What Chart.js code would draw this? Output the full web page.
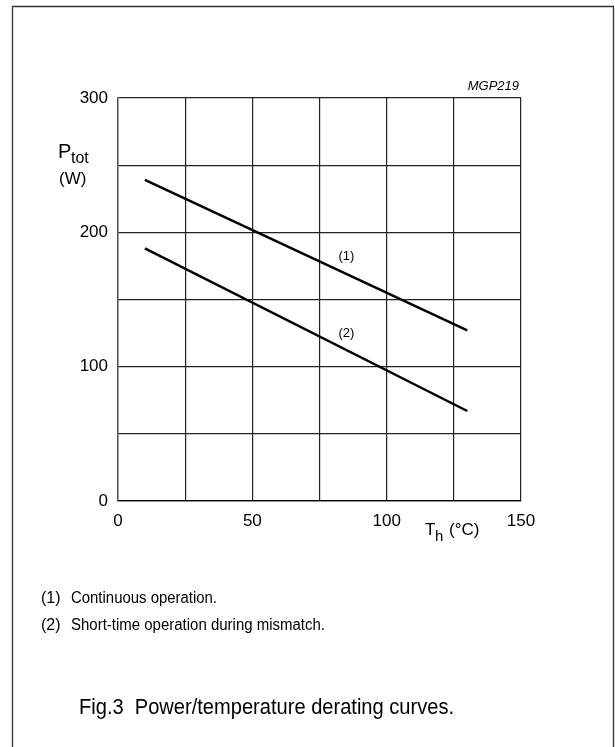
<!DOCTYPE html>
<html>
<head>
<meta charset="utf-8">
<script src="https://cdn.jsdelivr.net/npm/chart.js@4/dist/chart.umd.min.js"></script>
<style>
  html, body { margin: 0; padding: 0; background: #fff; }
  canvas { display: block; }
</style>
</head>
<body>
<canvas id="derating-chart" width="615" height="747"></canvas>
<script>
// heatsink temperature (°C) at both ends of each curve
const tempPoints = [10, 130];
// (1) continuous operation, W
const continuousPower = [239, 127];
// (2) short-time operation during mismatch, W
const mismatchPower = [188, 67];

const xTicks = [0, 50, 100, 150];
const yTicks = [0, 100, 200, 300];

const curveLabels = [
    { text: '(1)', x: 85, y: 182 },
    { text: '(2)', x: 85, y: 125 }
];

const notes = ['Continuous operation.', 'Short-time operation during mismatch.'];
const caption = 'Fig.3  Power/temperature derating curves.';

const FONT = 'Arial, "Liberation Sans", Helvetica, sans-serif';

function toPoints(xs, ys) {
    return xs.map((x, i) => ({ x: x, y: ys[i] }));
}

// draw text squeezed/stretched to a given width
function fitText(ctx, text, x, y, size, width) {
    ctx.save();
    ctx.font = size + 'px ' + FONT;
    const w = ctx.measureText(text).width;
    ctx.translate(x, y);
    ctx.scale(width / w, 1);
    ctx.textAlign = 'left';
    ctx.textBaseline = 'alphabetic';
    ctx.fillText(text, 0, 0);
    ctx.restore();
}

const decorations = {
    id: 'decorations',
    afterDraw(chart) {
        const ctx = chart.ctx;
        const xs = chart.scales.x;
        const ys = chart.scales.y;
        ctx.save();
        ctx.fillStyle = '#000';

        // page frame
        ctx.strokeStyle = '#333';
        ctx.lineWidth = 1.3;
        ctx.beginPath();
        ctx.moveTo(12.5, 760);
        ctx.lineTo(12.5, 6.5);
        ctx.lineTo(613.5, 6.5);
        ctx.lineTo(613.5, 760);
        ctx.stroke();

        // curve labels
        ctx.font = '13px ' + FONT;
        ctx.textAlign = 'center';
        ctx.textBaseline = 'middle';
        curveLabels.forEach(l => {
            ctx.fillText(l.text, xs.getPixelForValue(l.x), ys.getPixelForValue(l.y));
        });

        // drawing code
        ctx.font = 'italic 13px ' + FONT;
        ctx.textAlign = 'right';
        ctx.textBaseline = 'alphabetic';
        ctx.fillText('MGP219', 519, 90);

        // y axis title
        ctx.textAlign = 'left';
        ctx.font = '20px ' + FONT;
        ctx.fillText('P', 58, 158);
        ctx.font = '16px ' + FONT;
        ctx.fillText('tot', 71, 163);
        ctx.font = '17px ' + FONT;
        ctx.fillText('(W)', 59, 184);

        // x axis title
        ctx.font = '17px ' + FONT;
        ctx.fillText('T', 425, 535);
        ctx.font = '15px ' + FONT;
        ctx.fillText('h', 435, 541);
        ctx.font = '17px ' + FONT;
        ctx.fillText('(\u00B0C)', 449, 535);

        // notes
        ctx.font = '16px ' + FONT;
        ctx.fillText('(1)', 41, 603);
        ctx.fillText('(2)', 41, 630);
        fitText(ctx, notes[0], 71, 603, 16, 146);
        fitText(ctx, notes[1], 71, 630, 16, 254);

        // caption
        fitText(ctx, caption, 79, 714, 22, 375);
        ctx.restore();
    }
};

new Chart(document.getElementById('derating-chart'), {
    type: 'scatter',
    data: {
        datasets: [{
            label: '(1)',
            data: toPoints(tempPoints, continuousPower),
            showLine: true,
            borderColor: '#000',
            borderWidth: 2.5,
            pointRadius: 0
        }, {
            label: '(2)',
            data: toPoints(tempPoints, mismatchPower),
            showLine: true,
            borderColor: '#000',
            borderWidth: 2.5,
            pointRadius: 0
        }]
    },
    options: {
        responsive: false,
        animation: false,
        layout: { padding: { left: 0, top: 98, right: 94, bottom: 206 } },
        plugins: { legend: { display: false }, tooltip: { enabled: false } },
        scales: {
            x: {
                type: 'linear',
                min: 0,
                max: 150,
                afterFit: s => { s.height = 40; },
                afterBuildTicks: s => {
                    s.ticks = [0, 25, 50, 75, 100, 125, 150].map(v => ({ value: v }));
                },
                border: { color: '#000', width: 1.2 },
                grid: { color: '#222', lineWidth: 1.2, drawTicks: false },
                ticks: {
                    padding: 10,
                    maxRotation: 0,
                    color: '#000',
                    font: { family: FONT, size: 17 },
                    callback: v => xTicks.includes(v) ? String(v) : ''
                }
            },
            y: {
                min: 0,
                max: 300,
                afterFit: s => { s.width = 118; },
                afterBuildTicks: s => {
                    s.ticks = [0, 50, 100, 150, 200, 250, 300].map(v => ({ value: v }));
                },
                border: { color: '#555', width: 1.4 },
                grid: { color: '#222', lineWidth: 1.2, drawTicks: false },
                ticks: {
                    padding: 10,
                    color: '#000',
                    font: { family: FONT, size: 17 },
                    callback: v => yTicks.includes(v) ? String(v) : ''
                }
            }
        }
    },
    plugins: [decorations]
});
</script>
</body>
</html>
